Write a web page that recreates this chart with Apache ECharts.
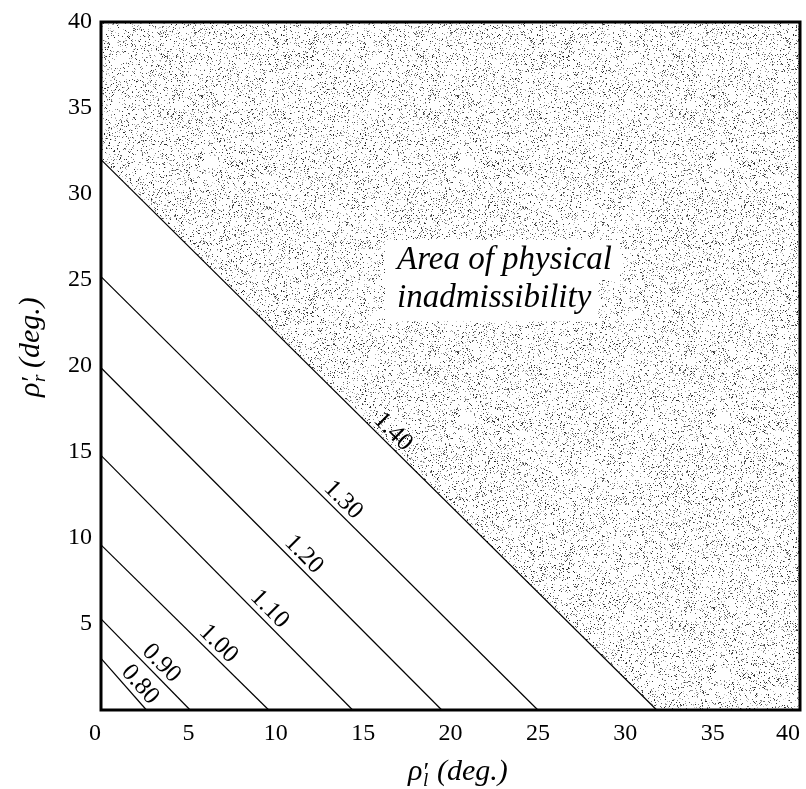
<!DOCTYPE html>
<html>
<head>
<meta charset="utf-8">
<script src="https://cdn.jsdelivr.net/npm/echarts@6/dist/echarts.min.js"></script>
<style>
  html, body { margin: 0; padding: 0; background: #fff; overflow: hidden; }
  #chart { width: 806px; height: 789px; }
</style>
</head>
<body>
<div id="chart"></div>
<script>
// ---- Data ----
const axisMin = 0;
const axisMax = 40;
const tickStep = 5;
const contourLevels = ['0.80', '0.90', '1.00', '1.10', '1.20', '1.30', '1.40'];
const yIntercepts = [3.0, 5.3, 9.6, 14.8, 19.9, 25.2, 32.0];   // rho'_r where line meets the left axis
const xIntercepts = [2.6, 5.1, 9.6, 14.4, 19.5, 25.0, 31.8];   // rho'_l where line meets the bottom axis
const boundaryIndex = 6;                                        // 1.40 line bounds the inadmissible area
const annotationLines = ['Area of physical', 'inadmissibility'];
const xTitle = { main: 'ρ', sub: 'l', unit: '(deg.)' };
const yTitle = { main: 'ρ', sub: 'r', unit: '(deg.)' };

// ---- Layout / style settings ----
const labelAlong = [0.66, 0.58, 0.65, 0.636, 0.57, 0.535, 0.51];
const labelOffset = 12;
const annotationAnchor = [16.25, 26.05];
const serif = '"Liberation Serif", "Times New Roman", serif';

function makeStipple() {
  const size = 256;
  const c = document.createElement('canvas');
  c.width = size; c.height = size;
  const ctx = c.getContext('2d');
  ctx.fillStyle = '#fff';
  ctx.fillRect(0, 0, size, size);
  let a = 987654321;
  function next() {
    a |= 0; a = (a + 0x6D2B79F5) | 0;
    let t = Math.imul(a ^ (a >>> 15), 1 | a);
    t = (t + Math.imul(t ^ (t >>> 7), 61 | t)) ^ t;
    return ((t ^ (t >>> 14)) >>> 0) / 4294967296;
  }
  const n = Math.floor(size * size * 0.13);
  for (let i = 0; i < n; i++) {
    const x = Math.floor(next() * size);
    const y = Math.floor(next() * size);
    const g = Math.floor(30 + next() * 180);
    ctx.fillStyle = 'rgb(' + g + ',' + g + ',' + g + ')';
    ctx.fillRect(x, y, 1, 1);
  }
  return c;
}
const stipple = makeStipple();

const chart = echarts.init(document.getElementById('chart'), null, { renderer: 'canvas', width: 806, height: 789 });

function titleGroup(t, x, y, rotation) {
  return {
    type: 'group', x: x, y: y, rotation: rotation,
    children: [
      { type: 'text', x: -51, y: 0, style: { text: t.main, font: 'italic 30px ' + serif, fill: '#000', align: 'left', verticalAlign: 'middle' } },
      { type: 'text', x: -37, y: 1, style: { text: '′', font: 'italic 26px ' + serif, fill: '#000', align: 'left', verticalAlign: 'middle' } },
      { type: 'text', x: -36, y: 9, style: { text: t.sub, font: 'italic 19px ' + serif, fill: '#000', align: 'left', verticalAlign: 'middle' } },
      { type: 'text', x: -22, y: 0, style: { text: t.unit, font: 'italic 30px ' + serif, fill: '#000', align: 'left', verticalAlign: 'middle' } }
    ]
  };
}

const option = {
  backgroundColor: '#fff',
  animation: false,
  grid: {
    left: 101, top: 22, right: 6, bottom: 79,
    containLabel: false, outerBoundsMode: 'none',
    show: true, borderColor: '#000', borderWidth: 3,
    backgroundColor: 'transparent', z: 10
  },
  xAxis: {
    type: 'value', min: axisMin, max: axisMax, interval: tickStep,
    axisLine: { show: false }, axisTick: { show: false }, splitLine: { show: false },
    axisLabel: { color: '#000', fontFamily: serif, fontSize: 24, margin: 12,
                 alignMinLabel: 'right', alignMaxLabel: 'right' }
  },
  yAxis: {
    type: 'value', min: axisMin, max: axisMax, interval: tickStep,
    axisLine: { show: false }, axisTick: { show: false }, splitLine: { show: false },
    axisLabel: {
      color: '#000', fontFamily: serif, fontSize: 24, margin: 9,
      formatter: v => (v === 0 ? '' : String(v))
    }
  },
  graphic: [
    titleGroup(xTitle, 459, 772, 0),
    titleGroup(yTitle, 31, 346, Math.PI / 2)
  ],
  series: [
    {
      type: 'custom', z: 1, silent: true,
      data: [[xIntercepts[boundaryIndex], yIntercepts[boundaryIndex]]],
      renderItem: function (params, api) {
        const pts = [
          api.coord([axisMin, api.value(1)]),
          api.coord([axisMin, axisMax]),
          api.coord([axisMax, axisMax]),
          api.coord([axisMax, axisMin]),
          api.coord([api.value(0), axisMin])
        ];
        return { type: 'polygon', shape: { points: pts }, style: { fill: { image: stipple, repeat: 'repeat' }, stroke: null } };
      }
    },
    {
      type: 'custom', z: 3, silent: true,
      data: contourLevels.map((lv, i) => [xIntercepts[i], yIntercepts[i], i]),
      renderItem: function (params, api) {
        const i = api.value(2);
        const p0 = api.coord([axisMin, api.value(1)]);
        const p1 = api.coord([api.value(0), axisMin]);
        const dx = p1[0] - p0[0], dy = p1[1] - p0[1];
        const len = Math.sqrt(dx * dx + dy * dy);
        const ux = dx / len, uy = dy / len;
        const t = labelAlong[i];
        const cx = p0[0] + dx * t + uy * labelOffset;
        const cy = p0[1] + dy * t - ux * labelOffset;
        return {
          type: 'group',
          children: [
            { type: 'line', shape: { x1: p0[0], y1: p0[1], x2: p1[0], y2: p1[1] }, style: { stroke: '#000', lineWidth: 1.2 } },
            { type: 'text', x: cx, y: cy, rotation: -Math.atan2(dy, dx),
              style: { text: contourLevels[i], font: '25px ' + serif, fill: '#000', align: 'center', verticalAlign: 'middle' } }
          ]
        };
      }
    },
    {
      type: 'custom', z: 4, silent: true,
      data: [annotationAnchor],
      renderItem: function (params, api) {
        const p = api.coord([api.value(0), api.value(1)]);
        return {
          type: 'group',
          children: [
            { type: 'text', x: p[0], y: p[1] + 36,
              style: { text: annotationLines[1], font: 'italic 33px ' + serif, fill: '#000', align: 'left', verticalAlign: 'middle',
                       backgroundColor: '#fff', padding: [4, 7, 10, 12] } },
            { type: 'text', x: p[0], y: p[1] - 2,
              style: { text: annotationLines[0], font: 'italic 33px ' + serif, fill: '#000', align: 'left', verticalAlign: 'middle',
                       backgroundColor: '#fff', padding: [7, 8, 0, 12] } }
          ]
        };
      }
    }
  ]
};
chart.setOption(option);
</script>
</body>
</html>
